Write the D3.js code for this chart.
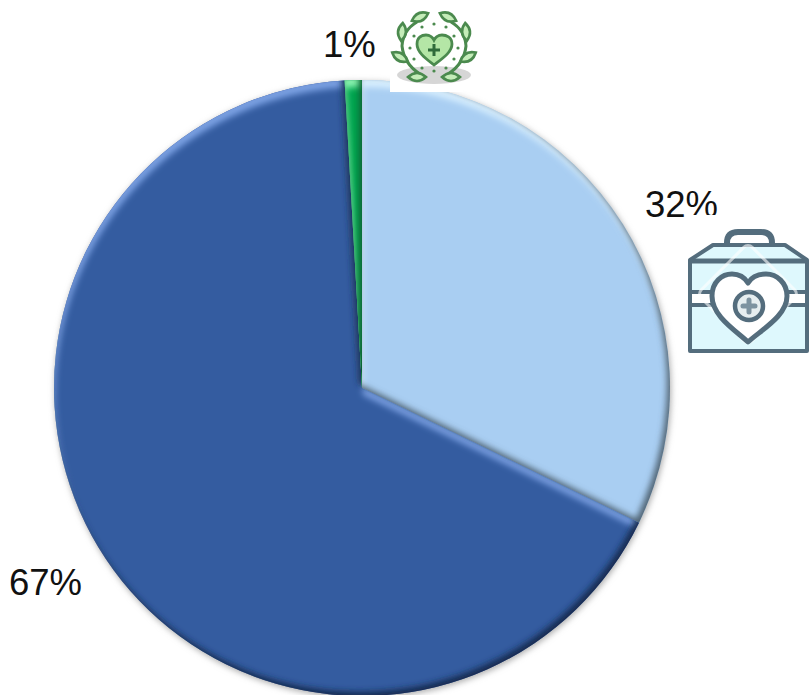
<!DOCTYPE html>
<html>
<head>
<meta charset="utf-8">
<style>
html, body { margin: 0; padding: 0; background: #fff; overflow: hidden; }
text { font-family: "Liberation Sans", Arial, sans-serif; font-size: 36.5px; fill: #111; }
</style>
<script src="https://cdnjs.cloudflare.com/ajax/libs/d3/7.8.5/d3.min.js"></script>
</head>
<body>
<script>
var width = 809;
var height = 695;

// shares, clockwise from 12 o'clock
var shares = [32.2, 66.9, 0.9];
var labels = ["32%", "67%", "1%"];
var colors = ["#a9cef2", "#345ca0", "#00a550"];
var lightEdge = ["#d9f0ff", "#7ba2e4", "#8af5b2"];
var darkEdge = ["#4f6373", "#14294f", "#005c2c"];

var cx = 362, cy = 388, radius = 308;

var svg = d3.select("body")
.append("svg")
.attr("width", width)
.attr("height", height)
.style("display", "block");

var defs = svg.append("defs");

defs.append("filter").attr("id", "blur")
.attr("x", "-10%").attr("y", "-10%").attr("width", "120%").attr("height", "120%")
.append("feGaussianBlur").attr("stdDeviation", 3);

defs.append("filter").attr("id", "shadow")
.attr("x", "-10%").attr("y", "-10%").attr("width", "120%").attr("height", "120%")
.append("feGaussianBlur").attr("stdDeviation", 3);

var pie = d3.pie().sort(null).value(function(d){ return d; });
var arc = d3.arc().innerRadius(0).outerRadius(radius);
var slices = pie(shares);

var chart = svg.append("g").attr("transform", "translate(" + cx + "," + cy + ")");

// soft shadow behind the pie
chart.append("circle")
.attr("cx", 1).attr("cy", 2).attr("r", radius)
.attr("fill", "#aaa")
.attr("filter", "url(#shadow)");

// big outer ring with the slice cut out, moved a little, gives the bevel
var ring = "M-1000,-1000H1000V1000H-1000Z";

slices.forEach(function(s, i){
	var d = arc(s);

	defs.append("clipPath").attr("id", "clip" + i)
	.append("path").attr("d", d);

	chart.append("path").attr("d", d).attr("fill", colors[i]);

	var g = chart.append("g").attr("clip-path", "url(#clip" + i + ")");

	g.append("path")
	.attr("d", ring + d)
	.attr("fill-rule", "evenodd")
	.attr("transform", "translate(1,7)")
	.attr("fill", lightEdge[i])
	.attr("filter", "url(#blur)");

	g.append("path")
	.attr("d", ring + d)
	.attr("fill-rule", "evenodd")
	.attr("transform", "translate(-3,-4)")
	.attr("fill", darkEdge[i])
	.attr("filter", "url(#blur)");
});

// labels
var labelPos = [[645, 217], [9, 595], [323, 57]];

svg.selectAll(".label")
.data(labels)
.enter()
.append("text")
.attr("class", "label")
.attr("x", function(d, i){ return labelPos[i][0]; })
.attr("y", function(d, i){ return labelPos[i][1]; })
.text(function(d){ return d; });

// wreath icon above the small slice
var wreath = svg.append("g");

wreath.append("rect").attr("x", 390).attr("y", 0).attr("width", 73).attr("height", 92).attr("fill", "#fff");
wreath.append("ellipse").attr("cx", 434).attr("cy", 75).attr("rx", 37).attr("ry", 9).attr("fill", "#d6d6d6");

var green = "#4b8a4e";
var leafFill = "#c4ecb8";

["M417,22 Q403,30 402,46 Q404,64 420,74", "M451,22 Q465,30 466,46 Q464,64 448,74"].forEach(function(d){
	wreath.append("path").attr("d", d).attr("fill", "none").attr("stroke", green).attr("stroke-width", 3);
});

var leaves = [[420, 17, -25], [448, 17, 25], [466, 32, 85], [402, 32, 95], [468, 57, -30], [400, 57, 30], [417, 77, 0], [451, 77, 0]];

wreath.selectAll(".leaf")
.data(leaves)
.enter()
.append("path")
.attr("class", "leaf")
.attr("d", "M-9,0 Q0,-8 9,0 Q0,8 -9,0Z")
.attr("transform", function(d){ return "translate(" + d[0] + "," + d[1] + ") rotate(" + d[2] + ")"; })
.attr("fill", leafFill)
.attr("stroke", green)
.attr("stroke-width", 2.6);

var dots = [[434, 24], [422, 27], [446, 27], [414, 36], [454, 36], [410, 48], [458, 48], [414, 59], [454, 59], [422, 68], [446, 68], [434, 71]];

wreath.selectAll(".dot")
.data(dots)
.enter()
.append("circle")
.attr("class", "dot")
.attr("cx", function(d){ return d[0]; })
.attr("cy", function(d){ return d[1]; })
.attr("r", 1.6)
.attr("fill", green);

wreath.append("path")
.attr("d", "M434,65 C425,58 417,52 417,44 C417,37 422,35 426,35 C430,35 433,38 434,40 C435,38 438,35 442,35 C446,35 452,37 452,44 C452,52 443,58 434,65Z")
.attr("fill", "#b4e6a6")
.attr("stroke", green)
.attr("stroke-width", 2.8);

wreath.append("path")
.attr("d", "M434,44V56M428,50H440")
.attr("stroke", "#2f6b3a")
.attr("stroke-width", 3)
.attr("fill", "none");

// first aid box icon, its white backing cuts the 32% label
var box = svg.append("g");
var slate = "#546d7d";

box.append("rect").attr("x", 688).attr("y", 215).attr("width", 121).attr("height", 140).attr("fill", "#fff");

box.append("path")
.attr("d", "M727,251V243Q727,232 738,232H761Q772,232 772,243V251")
.attr("fill", "none").attr("stroke", slate).attr("stroke-width", 6).attr("stroke-linecap", "round");

box.append("path")
.attr("d", "M690,260L713,245H785L807,260V351H690Z")
.attr("fill", "#def8fd").attr("stroke", slate).attr("stroke-width", 4).attr("stroke-linejoin", "round");

box.append("path").attr("d", "M690,261H807").attr("stroke", slate).attr("stroke-width", 5);

box.append("rect").attr("x", 692).attr("y", 294).attr("width", 113).attr("height", 9).attr("fill", "#fff");
box.append("path").attr("d", "M690,292H807M690,305H807").attr("stroke", slate).attr("stroke-width", 4);

// faint white square over the box
box.append("rect")
.attr("x", 712).attr("y", 258).attr("width", 72).attr("height", 72).attr("rx", 6)
.attr("transform", "rotate(45 748 294)")
.attr("fill", "none").attr("stroke", "#fff").attr("stroke-opacity", 0.6).attr("stroke-width", 3);

box.append("path")
.attr("d", "M748,342 C735,330 712,316 712,296 C712,282 722,274 732,274 C740,274 745,278 748,283 C751,278 757,274 766,274 C777,274 787,283 787,296 C787,316 761,330 748,342Z")
.attr("fill", "#fff").attr("stroke", slate).attr("stroke-width", 5).attr("stroke-linejoin", "round");

box.append("circle").attr("cx", 749).attr("cy", 306).attr("r", 14).attr("fill", "#e6eef0").attr("stroke", slate).attr("stroke-width", 4.5);
box.append("path").attr("d", "M749,300V312M743,306H755").attr("stroke", "#7d93a0").attr("stroke-width", 5).attr("stroke-linecap", "round");
</script>
</body>
</html>
